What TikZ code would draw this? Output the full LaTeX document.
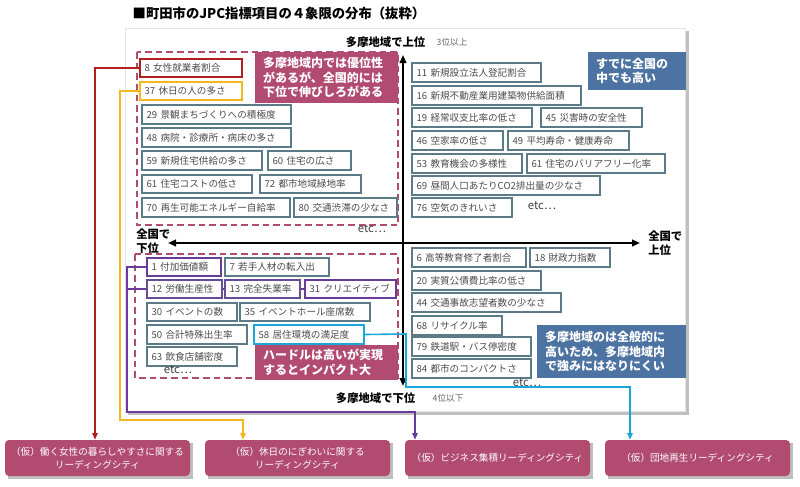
\documentclass[tikz,border=0pt]{standalone}
\usepackage{fontspec}
\setmainfont{Noto Sans CJK JP}
\usetikzlibrary{arrows.meta}
\definecolor{mag}{HTML}{B14B6F}
\definecolor{blu}{HTML}{4D73A3}
\definecolor{bord}{HTML}{5C7B88}
\definecolor{cy}{HTML}{1BA6D9}
\definecolor{pur}{HTML}{6A3A9A}
\definecolor{yel}{HTML}{F2B81E}
\definecolor{red2}{HTML}{B0201F}
\tikzset{
 item/.style={draw=bord,line width=0.8pt,fill=white,inner sep=0pt,font=\fontsize{7.2}{8}\selectfont,text=black!70,align=left},
 callm/.style={fill=mag,text=white,font=\bfseries\fontsize{9}{11}\selectfont,align=left,inner sep=0pt},
 callb/.style={fill=blu,text=white,font=\bfseries\fontsize{9}{11}\selectfont,align=left,inner sep=0pt},
 lead/.style={fill=mag,text=white,font=\fontsize{7.2}{9.5}\selectfont,align=center,rounded corners=3pt,inner sep=0pt},
 conn/.style={line width=1.2pt,-{Triangle[length=5pt,width=4pt]}},
 axl/.style={font=\bfseries\fontsize{8.5}{10}\selectfont},
 sm/.style={font=\fontsize{6.5}{8}\selectfont,text=black!60},
}
\newcommand\itm[7][bord]{\node[item,draw=#1,minimum width={(#4-#2)*0.75pt},minimum height={(#5-#3)*0.75pt},text width={(#4-#2)*0.75pt-7pt}] (#6) at ({(#2+#4)/2},{(#3+#5)/2}) {#7};}
\newcommand\blk[7]{\node[#1,minimum width={(#4-#2)*0.75pt},minimum height={(#5-#3)*0.75pt},text width={(#4-#2)*0.75pt-12pt}] (#6) at ({(#2+#4)/2},{(#3+#5)/2}) {#7};}
\newcommand\lbox[6]{\node[lead,minimum width={(#3-#1)*0.75pt},minimum height={(#4-#2)*0.75pt},text width={(#3-#1)*0.75pt-2pt}] (#5) at ({(#1+#3)/2},{(#2+#4)/2}) {#6};}
\begin{document}
\begin{tikzpicture}[x=0.75pt,y=-0.75pt]
\useasboundingbox (0,0) rectangle (800,486);
\node[font=\bfseries\fontsize{10}{12}\selectfont,anchor=west] (title) at (128,13) {■町田市のJPC指標項目の４象限の分布（抜粋）};
% panel
\fill[black!25] (128,31) rectangle (689,415);
\fill[white] (125,28) rectangle (685,411);
\draw[black!10] (125,28) rectangle (685,411);
% dashed boxes
\draw[mag,dashed,line width=1.2pt,dash pattern=on 5pt off 3pt] (137,52) rectangle (398,225);
\draw[mag,dashed,line width=1.2pt,dash pattern=on 5pt off 3pt] (135,254) rectangle (398,378);
% connectors behind
\draw[pur,line width=1.2pt] (127,289) -- (305,289);
\coordinate (r1) at (95,68); \coordinate (y1) at (120,91); \coordinate (y2) at (120,420); \coordinate (y3) at (243,420);
\coordinate (p1) at (127,267); \coordinate (p2) at (127,412); \coordinate (p3) at (415,412);
\coordinate (c1) at (406,334); \coordinate (c2) at (406,387); \coordinate (c3) at (630,387);
% axes
\draw[line width=1.4pt,{Triangle[length=6pt,width=5pt]}-{Triangle[length=6pt,width=5pt]}] (403,55) -- (403,386);
\draw[line width=1.4pt,{Triangle[length=6pt,width=5pt]}-{Triangle[length=6pt,width=5pt]}] (168,243) -- (640,243);
\node[axl,anchor=east] (tl) at (430,42) {多摩地域で上位};
\node[sm,anchor=west] (tl2) at (432,42) {3位以上};
\node[axl,anchor=east] (bl) at (420,398) {多摩地域で下位};
\node[sm,anchor=west] (bl2) at (428,398) {4位以下};
\node[axl,align=left,anchor=west,inner sep=0pt] (ll) at (136,241) {全国で\\下位};
\node[axl,align=left,anchor=west,inner sep=0pt] (rl) at (648,243) {全国で\\上位};
% upper left
\blk{callm}{255}{52}{398}{103}{cm1}{多摩地域内では優位性\\があるが、全国的には\\下位で伸びしろがある}
\itm[red2]{140}{59}{242}{77}{i8}{8 女性就業者割合}
\itm[yel]{140}{82}{242}{100}{i37}{37 休日の人の多さ}
\itm{142}{105}{291}{124}{i29}{29 景観まちづくりへの積極度}
\itm{142}{128}{291}{147}{i48}{48 病院・診療所・病床の多さ}
\itm{142}{151}{262}{170}{i59}{59 新規住宅供給の多さ}
\itm{268}{151}{351}{170}{i60}{60 住宅の広さ}
\itm{142}{175}{252}{193}{i61}{61 住宅コストの低さ}
\itm{260}{175}{361}{193}{i72}{72 都市地域緑地率}
\itm{142}{198}{290}{217}{i70}{70 再生可能エネルギー自給率}
\itm{294}{198}{397}{217}{i80}{80 交通渋滞の少なさ}
\node[font=\fontsize{8.5}{9}\selectfont,text=black!75] (e1) at (372,229) {etc…};
% upper right
\blk{callb}{588}{52}{686}{90}{cb1}{すでに全国の\\中でも高い}
\itm{412}{63}{541}{82}{i11}{11 新規設立法人登記割合}
\itm{412}{86}{581}{105}{i16}{16 新規不動産業用建築物供給面積}
\itm{412}{108}{532}{127}{i19}{19 経常収支比率の低さ}
\itm{541}{108}{642}{127}{i45}{45 災害時の安全性}
\itm{412}{131}{503}{150}{i46}{46 空家率の低さ}
\itm{508}{131}{629}{150}{i49}{49 平均寿命・健康寿命}
\itm{412}{154}{522}{173}{i53}{53 教育機会の多様性}
\itm{527}{154}{665}{173}{i61b}{61 住宅のバリアフリー化率}
\itm{412}{176}{600}{195}{i69}{69 昼間人口あたりCO2排出量の少なさ}
\itm{412}{198}{512}{217}{i76}{76 空気のきれいさ}
\node[font=\fontsize{8.5}{9}\selectfont,text=black!75] (e2) at (542,206) {etc…};
% lower left
\itm[pur]{147}{258}{221}{276}{i1}{1 付加価値額}
\itm{225}{258}{329}{276}{i7}{7 若手人材の転入出}
\itm[pur!70!bord]{147}{280}{222}{298}{i12}{12 労働生産性}
\itm[pur!70!bord]{225}{280}{300}{298}{i13}{13 完全失業率}
\itm[pur]{305}{280}{396}{298}{i31}{31 クリエイティブ}
\itm{147}{303}{237}{321}{i30}{30 イベントの数}
\itm{240}{303}{370}{321}{i35}{35 イベントホール座席数}
\itm{147}{325}{247}{344}{i50}{50 合計特殊出生率}
\itm[cy]{254}{325}{364}{344}{i58}{58 居住環境の満足度}
\itm{147}{347}{237}{366}{i63}{63 飲食店舗密度}
\blk{callm}{255}{345}{398}{380}{cm2}{ハードルは高いが実現\\するとインパクト大}
\node[font=\fontsize{8.5}{9}\selectfont,text=black!75] (e3) at (178,370) {etc…};
% lower right
\itm{412}{248}{526}{267}{i6}{6 高等教育修了者割合}
\itm{530}{248}{610}{267}{i18}{18 財政力指数}
\itm{412}{271}{541}{290}{i20}{20 実質公債費比率の低さ}
\itm{412}{293}{561}{312}{i44}{44 交通事故志望者数の少なさ}
\itm{412}{316}{502}{335}{i68}{68 リサイクル率}
\itm{412}{337}{531}{356}{i79}{79 鉄道駅・バス停密度}
\itm{412}{359}{531}{378}{i84}{84 都市のコンパクトさ}
\blk{callb}{537}{325}{686}{378}{cb2}{多摩地域のは全般的に\\高いため、多摩地域内\\で強みにはなりにくい}
\node[font=\fontsize{8.5}{9}\selectfont,text=black!75] (e4) at (527,383) {etc…};
% bottom boxes
\fill[black!25] (8,443) rectangle (193,479);
\fill[black!25] (208,443) rectangle (393,479);
\fill[black!25] (408,443) rectangle (593,479);
\fill[black!25] (608,443) rectangle (793,479);
\lbox{5}{440}{190}{476}{L1}{（仮）働く女性の暮らしやすさに関する\\リーディングシティ}
\lbox{205}{440}{390}{476}{L2}{（仮）休日のにぎわいに関する\\リーディングシティ}
\lbox{405}{440}{590}{476}{L3}{（仮）ビジネス集積リーディングシティ}
\lbox{605}{440}{790}{476}{L4}{（仮）団地再生リーディングシティ}
% connectors
\draw[conn,red2] (i8.west) -- (r1) -- (r1 |- L1.north);
\draw[conn,yel] (i37.west) -- (y1) -- (y2) -- (y3) -- (y3 |- L2.north);
\draw[conn,pur] (i1.west) -- (p1) -- (p2) -- (p3) -- (p3 |- L3.north);
\draw[conn,cy] (i58.east) -- (c1) -- (c2) -- (c3) -- (c3 |- L4.north);
\end{tikzpicture}
\end{document}
